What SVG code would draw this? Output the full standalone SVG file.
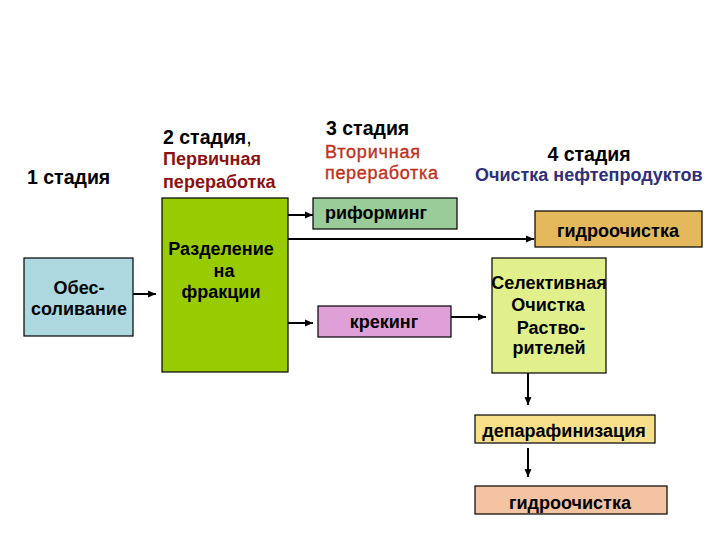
<svg xmlns="http://www.w3.org/2000/svg" width="720" height="540" viewBox="0 0 720 540">
<defs>
<marker id="ah" viewBox="0 0 8 8" refX="8" refY="4" markerWidth="8" markerHeight="8" markerUnits="userSpaceOnUse" orient="auto">
<path d="M0,0.5 L8,4 L0,7.5 Z" fill="#000"/>
</marker>
</defs>
<style>
text{font-family:"Liberation Sans",Arial,sans-serif;font-weight:bold;fill:#000}
.h{font-size:19.5px}
.s{font-size:18px}
.b{stroke:#000;stroke-width:1.2}
.c{stroke:#000;stroke-width:2;fill:none;marker-end:url(#ah)}
.m{text-anchor:middle}
</style>
<rect width="720" height="540" fill="#fff"/>
<g id="headers">
<text class="h" x="27" y="184">1 стадия</text>
<text class="h" x="163" y="144">2 стадия<tspan font-weight="normal">,</tspan></text>
<text class="s" x="163" y="165" style="fill:#8b1010">Первичная</text>
<text class="s" x="163" y="188" style="fill:#8b1010">переработка</text>
<text class="h" x="326" y="135">3 стадия</text>
<text class="s" x="325" y="158" textLength="95" style="fill:#c0301a;font-weight:normal;stroke:#c0301a;stroke-width:0.35">Вторичная</text>
<text class="s" x="325" y="179" textLength="113" style="fill:#c0301a;font-weight:normal;stroke:#c0301a;stroke-width:0.35">переработка</text>
<text class="h m" x="589" y="161">4 стадия</text>
<text class="s" x="475" y="181" style="fill:#2e2e7a">Очистка нефтепродуктов</text>
</g>
<g id="connectors">
<line class="c" x1="133" y1="294" x2="156" y2="294"/>
<line class="c" x1="288" y1="215" x2="313" y2="215"/>
<line class="c" x1="287" y1="239" x2="534" y2="239"/>
<line class="c" x1="288" y1="323" x2="313" y2="323"/>
<line class="c" x1="451" y1="317" x2="486" y2="317"/>
<line class="c" x1="528" y1="373" x2="528" y2="405"/>
<line class="c" x1="528" y1="448" x2="528" y2="477"/>
</g>
<g id="n-obes">
<rect class="b" x="24" y="258" width="109" height="78" fill="#add8df"/>
<text class="s m" x="79" y="294">Обес-</text>
<text class="s m" x="79" y="315">соливание</text>
</g>
<g id="n-razd">
<rect class="b" x="162" y="198" width="126" height="174" fill="#99cc00"/>
<text class="s m" x="221" y="255">Разделение</text>
<text class="s m" x="224" y="277">на</text>
<text class="s m" x="221" y="298">фракции</text>
</g>
<g id="n-rif">
<rect class="b" x="313" y="198" width="144" height="31" fill="#99cc99"/>
<text class="s" x="325" y="219">риформинг</text>
</g>
<g id="n-gidro1">
<rect class="b" x="535" y="211" width="167" height="36" fill="#e4b95c"/>
<text class="s m" x="618" y="237">гидроочистка</text>
</g>
<g id="n-kreking">
<rect class="b" x="318" y="306" width="133" height="31" fill="#dfa0d8"/>
<text class="s m" x="384" y="328">крекинг</text>
</g>
<g id="n-selekt">
<rect class="b" x="492" y="258" width="114" height="115" fill="#e2f08c"/>
<text class="s m" x="549" y="289">Селективная</text>
<text class="s m" x="548" y="311">Очистка</text>
<text class="s m" x="551" y="334">Раство-</text>
<text class="s m" x="549" y="354">рителей</text>
</g>
<g id="n-depar">
<rect class="b" x="475" y="415" width="180" height="28" fill="#f8e08a"/>
<text class="s m" x="564" y="437">депарафинизация</text>
</g>
<g id="n-gidro2">
<rect class="b" x="475" y="486" width="192" height="28" fill="#f4c3a3"/>
<text class="s m" x="570" y="509">гидроочистка</text>
</g>
</svg>
